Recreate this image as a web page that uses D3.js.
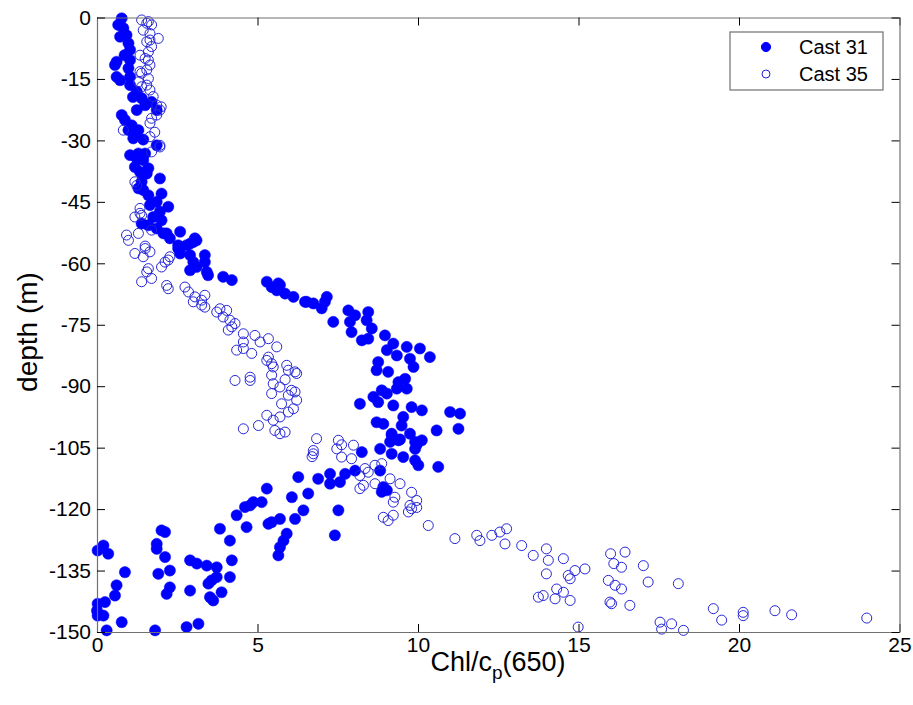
<!DOCTYPE html>
<html>
<head>
<meta charset="utf-8">
<script src="https://cdn.jsdelivr.net/npm/d3@7"></script>
<style>
  html, body { margin: 0; padding: 0; background: #ffffff; }
  svg { display: block; font-family: "Liberation Sans", Arial, Helvetica, sans-serif; }
</style>
</head>
<body>
<svg id="chart" width="913" height="705"></svg>
<script>
// Chl/cp(650) ratio vs depth for two CTD casts: [ratio, depth in m]
const cast31 = [
  [0.77,-0.2],[0.66,-1.8],[0.82,-2.6],[0.92,-4.3],[0.72,-4.7],[0.98,-6.3],[1.03,-7.9],[0.86,-9.2],
  [0.61,-10.8],[0.56,-11.6],[1.03,-10.4],[0.98,-12.4],[0.61,-14.5],[0.72,-15.3],[1.03,-14.5],[1.03,-16.5],
  [1.24,-18.1],[1.39,-19.7],[1.5,-21.4],[1.7,-20.6],[1.86,-22.6],[1.24,-22.6],[0.77,-23.8],[0.87,-25.0],
  [1.08,-26.3],[1.29,-27.5],[0.98,-27.5],[1.13,-29.5],[1.86,-31.2],[1.44,-29.8],[1.03,-33.6],[1.29,-33.2],
  [1.44,-34.8],[1.18,-36.5],[1.34,-37.7],[1.6,-36.8],[1.96,-39.3],[1.39,-40.1],[1.44,-42.1],[1.29,-41.7],
  [1.6,-43.4],[2.01,-43.0],[1.86,-45.0],[1.65,-45.8],[2.22,-46.2],[1.96,-47.4],[1.75,-48.7],[1.39,-50.3],
  [1.6,-50.7],[2.01,-49.5],[1.86,-51.5],[2.17,-52.7],[2.59,-52.3],[2.53,-55.6],[2.9,-55.2],[3.1,-54.4],
  [3.05,-53.9],[2.07,-52.7],[2.27,-53.9],[1.12,-19.4],[1.55,-38.1],[1.24,-34.4],[1.5,-33.2],[1.18,-28.2],
  [2.53,-56.4],[2.59,-57.6],[2.79,-55.6],[3.0,-54.8],[2.9,-58.0],[3.0,-59.7],[2.9,-61.7],[3.1,-60.9],
  [3.36,-58.0],[3.36,-59.7],[3.42,-62.1],[3.46,-62.9],[3.93,-63.3],[4.2,-64.1],
  [5.29,-64.5],[5.44,-65.8],[5.65,-64.9],[5.6,-66.6],[5.86,-67.4],[6.12,-68.2],[6.53,-69.4],[6.74,-69.8],
  [7.0,-71.0],[7.16,-68.2],[7.1,-69.4],[7.36,-74.3],[5.7,-65.3],[6.48,-69.4],
  [7.83,-71.5],[8.04,-72.7],[7.88,-74.3],[8.45,-71.9],[8.4,-73.9],[8.56,-75.9],[7.93,-76.8],[8.25,-78.8],
  [8.45,-78.4],[8.97,-77.6],[9.23,-79.6],[9.03,-81.2],[9.34,-82.5],[9.65,-80.4],[10.06,-80.8],[10.37,-82.9],
  [9.75,-83.3],[9.86,-85.3],[8.76,-84.1],[8.71,-86.1],[9.07,-86.5],[9.39,-89.0],[9.6,-88.2],[9.65,-90.6],
  [9.34,-90.6],[8.87,-91.0],[8.61,-92.6],[8.76,-93.9],[9.03,-91.8],[8.19,-94.3],[9.23,-94.7],[9.8,-95.1],
  [10.12,-95.9],[9.54,-97.5],[9.49,-99.6],[10.58,-100.8],[11.0,-96.3],[11.31,-96.7],[11.26,-100.4],[8.71,-98.8],
  [8.92,-99.2],[9.18,-101.6],[9.13,-103.6],[9.39,-103.2],[9.75,-101.6],[9.91,-103.6],[10.12,-103.2],[8.82,-105.3],
  [9.18,-106.5],[9.54,-107.3],[9.91,-105.3],[8.25,-106.1],[9.18,-102.0],[9.44,-103.0],[9.96,-104.3],[9.91,-108.1],
  [10.01,-109.3],[10.63,-109.7],[8.82,-110.6],[8.04,-110.6],[7.73,-111.4],[7.26,-111.4],[7.26,-113.8],[7.57,-113.4],
  [6.89,-112.6],[6.27,-112.2],[6.58,-116.2],[6.07,-117.1],[8.92,-114.6],[9.03,-115.4],[8.87,-115.8],[6.43,-120.3],
  [6.17,-122.4],[7.52,-120.3],[7.41,-126.4],
  [5.34,-123.6],[5.44,-123.2],[5.7,-122.4],[5.91,-126.0],[5.81,-127.7],[5.7,-129.3],[5.65,-131.3],
  [5.29,-115.0],[5.13,-118.3],[4.87,-118.3],[4.77,-119.1],[4.61,-119.5],[4.35,-121.5],[4.66,-124.4],[3.83,-124.8],
  [4.14,-127.7],[4.2,-132.5],[4.14,-136.6],[3.88,-140.3],[3.62,-142.3],[3.52,-141.5],[3.73,-134.2],[3.73,-136.6],
  [3.47,-138.2],[3.57,-137.4],[3.42,-133.8],[3.11,-133.3],[2.9,-132.5],[2.9,-139.9],[3.16,-148.0],[2.79,-148.8],
  [1.81,-149.6],[2.12,-125.6],[2.01,-125.2],[1.86,-128.5],[1.86,-129.7],[2.12,-131.7],[2.27,-135.0],[1.91,-135.8],
  [2.27,-139.1],[2.17,-140.7],[0.87,-135.4],[0.61,-138.6],[0.56,-141.1],[0.25,-142.7],[0.02,-143.1],[0.0,-144.8],
  [0.02,-146.0],[0.2,-146.0],[0.3,-149.6],[0.77,-147.6],[0.02,-130.1],[0.2,-128.9],[0.35,-130.9]
];

const cast35 = [
  [1.39,-0.6],[1.55,-1.4],[1.7,-1.8],[1.44,-3.1],[1.65,-3.9],[1.91,-5.1],[1.55,-5.9],[1.7,-7.1],
  [1.6,-8.4],[1.34,-9.2],[1.5,-10.0],[1.65,-11.6],[1.55,-12.8],[1.39,-13.6],[1.6,-14.9],[1.29,-15.7],
  [1.39,-16.9],[1.65,-17.7],[1.75,-19.3],[1.96,-22.6],[1.86,-23.8],[1.7,-24.6],[1.65,-25.8],[1.96,-31.6],
  [1.65,-29.1],[0.82,-27.5],[1.18,-40.1],[1.34,-46.6],[1.39,-48.3],[0.92,-53.1],[1.7,-51.9],[1.18,-48.7],
  [1.6,-1.0],[1.65,-5.5],[1.6,-10.4],[1.34,-13.2],[1.55,-16.5],[1.86,-21.4],[2.0,-21.8],[1.8,-28.0],
  [1.96,-31.2],[1.7,-32.8],[1.24,-41.0],[1.34,-47.8],[0.98,-54.4],[1.29,-52.7],[1.5,-55.8],
  [1.18,-57.6],[1.5,-56.4],[1.65,-57.2],[1.44,-58.4],[1.6,-61.3],[1.55,-62.1],[1.7,-63.7],[1.39,-64.5],
  [2.01,-60.9],[2.12,-59.7],[2.22,-59.2],[2.27,-58.4],[2.17,-65.4],[2.22,-66.2],[2.74,-65.8],[2.85,-67.0],
  [3.0,-69.4],[3.05,-68.2],[3.26,-69.0],[3.36,-67.8],[3.36,-70.7],[3.26,-70.2],[3.73,-71.9],[3.83,-71.1],
  [4.04,-71.5],[3.93,-73.1],[4.14,-73.9],[4.09,-76.3],[4.3,-74.7],[4.2,-75.5],[4.56,-77.2],[4.35,-81.2],
  [4.56,-79.2],[4.56,-80.8],[4.82,-82.0],[4.92,-77.6],[5.08,-79.2],[5.34,-78.4],[5.34,-82.9],[5.29,-83.7],
  [5.44,-84.5],[5.6,-80.4],[5.49,-85.3],[5.44,-87.3],[5.49,-89.4],[5.44,-91.8],[5.7,-90.2],[5.91,-84.9],
  [5.96,-86.1],[6.17,-86.5],[6.22,-86.9],[5.86,-88.4],[6.06,-91.0],[5.75,-94.3],[5.96,-92.2],[6.17,-91.4],
  [6.22,-93.4],[6.12,-95.5],[5.96,-96.3],[5.7,-97.5],[4.3,-88.6],[4.77,-88.6],[4.77,-87.8],[5.29,-97.1],
  [5.03,-99.6],[4.56,-100.4],[5.49,-98.3],[5.54,-100.8],[5.7,-101.6],[5.86,-101.2],
  [6.84,-102.8],[6.74,-105.7],[6.74,-106.5],[6.7,-107.2],[7.52,-103.2],[7.62,-104.3],[7.47,-105.3],[7.99,-104.4],
  [7.62,-107.3],[7.93,-107.7],[8.35,-110.1],[8.45,-111.0],[8.19,-111.8],[8.66,-109.3],[8.87,-108.9],[8.19,-115.0],
  [8.3,-114.2],[8.66,-113.8],[9.13,-112.6],[9.44,-113.8],[9.28,-117.1],[9.23,-118.3],[9.8,-115.9],[9.96,-117.9],
  [9.75,-119.1],[9.8,-119.9],[9.96,-119.6],[9.7,-120.7],[9.23,-121.5],[8.92,-122.0],[9.07,-122.8],[10.32,-124.0],
  [11.15,-127.2],[11.83,-126.4],[11.93,-127.7],[12.3,-126.4],[12.55,-125.6],[12.76,-124.8],[12.71,-128.5],[13.23,-128.9],
  [13.59,-131.3],[14.0,-129.7],[14.06,-132.5],[14.0,-135.8],[14.53,-132.1],[14.68,-136.2],[14.74,-137.0],[14.89,-135.0],
  [15.2,-134.6],[13.75,-141.5],[13.9,-141.1],[14.27,-141.9],[14.32,-139.5],[14.53,-140.3],[14.74,-142.3],[14.99,-148.8],
  [16.0,-130.9],[16.45,-130.5],[16.1,-133.3],[16.34,-134.2],[15.93,-137.4],[16.14,-138.6],[16.34,-139.5],[17.02,-133.8],
  [17.17,-137.8],[18.11,-138.2],[15.98,-142.7],[16.03,-143.1],[16.6,-143.5],[17.54,-147.6],[17.59,-149.3],[17.9,-148.0],
  [18.27,-149.6],[19.2,-144.3],[19.46,-147.1],[20.13,-145.2],[20.13,-146.0],[21.12,-144.8],[21.64,-145.8],[23.98,-146.6]
];

const seriesNames = ["Cast 31", "Cast 35"];
const xTicks = [0, 5, 10, 15, 20, 25];
const yTicks = [0, -15, -30, -45, -60, -75, -90, -105, -120, -135, -150];

const svg = d3.select("#chart");
const margin = { left: 97, right: 13.5, top: 17.5, bottom: 73 };
const W = 913, H = 705;
const x = d3.scaleLinear().domain([0, 25]).range([margin.left, W - margin.right]);
const y = d3.scaleLinear().domain([-150, 0]).range([H - margin.bottom, margin.top]);

const axisColor = "#707070";
const blue = "#0000ff";
const ringBlue = "#2626d8";

// plotting area background
svg.append("rect").attr("x", x(0)).attr("y", y(0))
  .attr("width", x(25) - x(0)).attr("height", y(-150) - y(0))
  .attr("fill", "#ffffff");

svg.append("clipPath").attr("id", "plotclip").append("rect")
  .attr("x", x(0) - 7).attr("y", y(0) - 7)
  .attr("width", x(25) - x(0) + 14).attr("height", y(-150) - y(0) + 14);

const marks = svg.append("g").attr("clip-path", "url(#plotclip)");

marks.append("g").selectAll("circle").data(cast31).join("circle")
  .attr("cx", d => x(d[0])).attr("cy", d => y(d[1]))
  .attr("r", 5.6).attr("fill", blue).attr("stroke", blue).attr("stroke-width", 0.5);

marks.append("g").selectAll("circle").data(cast35).join("circle")
  .attr("cx", d => x(d[0])).attr("cy", d => y(d[1]))
  .attr("r", 5.0).attr("fill", "none").attr("stroke", ringBlue).attr("stroke-width", 1);

// axes with inward ticks, boxed frame
const fmt = d => String(d);
function styleAxis(g) {
  g.selectAll(".domain").attr("stroke", axisColor).attr("stroke-width", 1.2);
  g.selectAll(".tick line").attr("stroke", "#000").attr("stroke-width", 1);
  g.selectAll(".tick text").attr("fill", "#000").attr("font-size", 21)
    .attr("font-family", "'Liberation Sans', Arial, sans-serif");
}

svg.append("g").attr("transform", `translate(0,${y(-150)})`)
  .call(d3.axisBottom(x).tickValues(xTicks).tickFormat(fmt).tickSizeInner(-8).tickSizeOuter(0).tickPadding(5))
  .call(styleAxis);

svg.append("g").attr("transform", `translate(0,${y(0)})`)
  .call(d3.axisTop(x).tickValues(xTicks).tickFormat("").tickSizeInner(-8).tickSizeOuter(0))
  .call(styleAxis);

svg.append("g").attr("transform", `translate(${x(0)},0)`)
  .call(d3.axisLeft(y).tickValues(yTicks).tickFormat(fmt).tickSizeInner(-8).tickSizeOuter(0).tickPadding(6))
  .call(styleAxis);

svg.append("g").attr("transform", `translate(${x(25)},0)`)
  .call(d3.axisRight(y).tickValues(yTicks).tickFormat("").tickSizeInner(-8).tickSizeOuter(0))
  .call(styleAxis);

// axis titles
const xLabel = svg.append("text")
  .attr("x", 498).attr("y", 671)
  .attr("text-anchor", "middle").attr("font-size", 27).attr("fill", "#000");
xLabel.append("tspan").text("Chl/c");
xLabel.append("tspan").attr("font-size", 19).attr("dy", 8).text("p");
xLabel.append("tspan").attr("dy", -8).text("(650)");

svg.append("text")
  .attr("transform", `translate(37,332) rotate(-90)`)
  .attr("text-anchor", "middle").attr("font-size", 28).attr("fill", "#000")
  .text("depth (m)");

// legend
const lg = svg.append("g").attr("transform", "translate(730,32)");
lg.append("rect").attr("width", 153).attr("height", 58)
  .attr("fill", "#fff").attr("stroke", axisColor).attr("stroke-width", 1.2);
const legendItems = lg.selectAll("g.item").data(seriesNames).join("g")
  .attr("class", "item")
  .attr("transform", (d, i) => `translate(0,${15 + i * 27})`);
legendItems.append("circle").attr("cx", 36).attr("cy", 0)
  .attr("r", (d, i) => i === 0 ? 4.6 : 4)
  .attr("fill", (d, i) => i === 0 ? blue : "none")
  .attr("stroke", (d, i) => i === 0 ? blue : ringBlue)
  .attr("stroke-width", 1);
legendItems.append("text").attr("x", 69).attr("y", 7)
  .attr("font-size", 20).attr("fill", "#000").text(d => d);
</script>
</body>
</html>
